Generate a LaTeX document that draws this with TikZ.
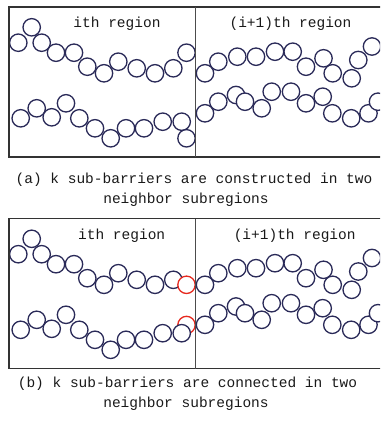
\documentclass[tikz,border=0pt]{standalone}
\usepackage{fontspec}
\setmonofont{Liberation Mono}
\begin{document}
\begin{tikzpicture}[x=1pt,y=-1pt]
\definecolor{navy}{RGB}{42,42,88}
\definecolor{redc}{RGB}{230,40,30}
\tikzset{
  sensor/.style={draw=navy,fill=white,line width=1.3pt},
  redsensor/.style={draw=redc,fill=white,line width=1.3pt},
  framel/.style={draw=black!80,line width=1.3pt},
  divl/.style={draw=black!70,line width=1pt},
  lbl/.style={font=\ttfamily\fontsize{14.5}{17}\selectfont,inner sep=0pt,text=black!90},
}
\def\rr{8.7}
\useasboundingbox (0,0) rectangle (380,422);
\begin{scope}
\clip (0,0) rectangle (380,422);
% ---------- panel (a) ----------
\foreach \x/\y in {18.3/42.7,31.7/27.3,41.7/42.7,56/52.7,74/52.7,87.3/66.7,104/73.3,118.3/61.7,136.7/68.3,155/73.3,173.3/68.3,186.5/52.7,
  205/73.3,218.3/61.7,237.3/56.7,256/56.7,275/51.7,292.7/51.7,306/66.7,323.5/58.3,332.7/73.3,351.7/78.3,358.3/60,372/46.5}
  \draw[sensor] (\x,\y) circle (\rr);
\foreach \x/\y in {20.7/118.3,36.7/108.3,51.7/117.3,66/103.3,79.3/118.3,95/128.3,110.7/138.3,126/128.3,144/128.3,162.7/121.7,181.7/121.7,186.5/138.3,
  205/113.3,218.3/101.7,236/95,245/101.7,261.7/108.3,271.7/91.7,291/91.7,306/103.3,322.7/96.7,332.3/113.3,351.2/118.3,368.5/113.3,378/101.7}
  \draw[sensor] (\x,\y) circle (\rr);
\draw[framel] (385,7) -- (9,7) -- (9,157) -- (385,157);
\draw[divl] (195,7) -- (195,157);
\node[lbl] (ra) at (117,24) {ith region};
\node[lbl] (rb) at (290.5,24) {(i+1)th region};
\node[lbl] (ca1) at (194,180) {(a) k sub-barriers are constructed in two};
\node[lbl] (ca2) at (186,200) {neighbor subregions};
% ---------- panel (b) ----------
\begin{scope}[yshift=-211.5pt]
\foreach \x/\y in {18.3/42.7,31.7/27.3,41.7/42.7,56/52.7,74/52.7,87.3/66.7,104/73.3,118.3/61.7,136.7/68.3,155/73.3,173.3/68.3,
  205/73.3,218.3/61.7,237.3/56.7,256/56.7,275/51.7,292.7/51.7,306/66.7,323.5/58.3,332.7/73.3,351.7/78.3,358.3/60,372/46.5}
  \draw[sensor] (\x,\y) circle (\rr);
\draw[redsensor] (186.5,73.3) circle (\rr);
\draw[redsensor] (186.5,113.5) circle (\rr);
\foreach \x/\y in {20.7/118.3,36.7/108.3,51.7/117.3,66/103.3,79.3/118.3,95/128.3,110.7/138.3,126/128.3,144/128.3,162.7/121.7,181.7/121.7,
  205/113.3,218.3/101.7,236/95,245/101.7,261.7/108.3,271.7/91.7,291/91.7,306/103.3,322.7/96.7,332.3/113.3,351.2/118.3,368.5/113.3,378/101.7}
  \draw[sensor] (\x,\y) circle (\rr);
\draw[framel] (385,7) -- (9,7) -- (9,157) -- (385,157);
\draw[divl] (195,7) -- (195,157);
\end{scope}
\node[lbl] (rc) at (121.7,236) {ith region};
\node[lbl] (rd) at (294.7,236) {(i+1)th region};
\node[lbl] (cb1) at (187.5,383.5) {(b) k sub-barriers are connected in two};
\node[lbl] (cb2) at (186,403.5) {neighbor subregions};
\end{scope}
\end{tikzpicture}
\end{document}
